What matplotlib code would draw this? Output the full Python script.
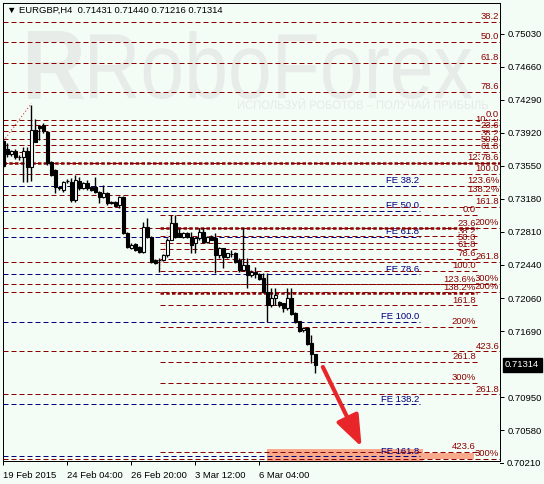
import matplotlib.pyplot as plt
from matplotlib.font_manager import FontProperties
from matplotlib.patches import PathPatch, Rectangle
from matplotlib.textpath import TextPath
from matplotlib.transforms import Affine2D, blended_transform_factory

plt.rcParams["font.family"] = ["Liberation Sans", "DejaVu Sans"]

# EURGBP H4, bar 0 = 19 Feb 2015 12:00
opens = [0.73828, 0.73739, 0.73682, 0.73716, 0.73649, 0.73649, 0.73716, 0.73536, 0.73952, 0.73997,
         0.74008, 0.73930, 0.73593, 0.73503, 0.73312, 0.73278, 0.73379, 0.73368, 0.73165, 0.73379,
         0.73300, 0.73356, 0.73312, 0.73312, 0.73255, 0.73199, 0.73244, 0.73143, 0.73143, 0.73109,
         0.73199, 0.72794, 0.72625, 0.72670, 0.72637, 0.72580, 0.72862, 0.72749, 0.72490, 0.72490,
         0.72490, 0.72547, 0.72715, 0.72907, 0.72794, 0.72749, 0.72794, 0.72749, 0.72682, 0.72738,
         0.72805, 0.72693, 0.72749, 0.72738, 0.72547, 0.72625, 0.72524, 0.72558, 0.72569, 0.72490,
         0.72378, 0.72434, 0.72322, 0.72356, 0.72333, 0.72288, 0.72131, 0.71985, 0.72064, 0.72019,
         0.72008, 0.71951, 0.72064, 0.71895, 0.71805, 0.71704, 0.71726, 0.71558, 0.71431]
highs = [0.73862, 0.73806, 0.73727, 0.73739, 0.73671, 0.73761, 0.73761, 0.74232, 0.74075, 0.74008,
         0.74030, 0.73941, 0.73604, 0.73514, 0.73323, 0.73379, 0.73401, 0.73413, 0.73446, 0.73424,
         0.73368, 0.73390, 0.73323, 0.73424, 0.73267, 0.73334, 0.73255, 0.73154, 0.73154, 0.73210,
         0.73210, 0.72805, 0.72682, 0.72682, 0.72648, 0.72918, 0.72963, 0.72760, 0.72502, 0.72513,
         0.72558, 0.72738, 0.72997, 0.72997, 0.72850, 0.72805, 0.72805, 0.72805, 0.72749, 0.72850,
         0.72850, 0.72760, 0.72772, 0.72794, 0.72637, 0.72630, 0.72569, 0.72603, 0.72580, 0.72513,
         0.72850, 0.72513, 0.72378, 0.72412, 0.72344, 0.72344, 0.72344, 0.72176, 0.72176, 0.72030,
         0.72010, 0.72176, 0.72176, 0.71906, 0.71808, 0.71738, 0.71738, 0.71648, 0.71440]
lows = [0.73525, 0.73649, 0.73660, 0.73626, 0.73615, 0.73368, 0.73368, 0.73379, 0.73817, 0.73840,
        0.73918, 0.73559, 0.73435, 0.73244, 0.73278, 0.73255, 0.73356, 0.73143, 0.73143, 0.73278,
        0.73289, 0.73278, 0.73267, 0.73244, 0.73132, 0.73188, 0.73109, 0.73120, 0.73087, 0.73075,
        0.72783, 0.72625, 0.72614, 0.72592, 0.72569, 0.72569, 0.72738, 0.72457, 0.72446, 0.72356,
        0.72479, 0.72524, 0.72715, 0.72738, 0.72749, 0.72738, 0.72738, 0.72569, 0.72569, 0.72715,
        0.72682, 0.72682, 0.72715, 0.72344, 0.72513, 0.72401, 0.72513, 0.72524, 0.72457, 0.72356,
        0.72370, 0.72176, 0.72299, 0.72288, 0.72266, 0.72120, 0.71794, 0.71963, 0.71985, 0.71963,
        0.71906, 0.71929, 0.71872, 0.71783, 0.71681, 0.71681, 0.71536, 0.71333, 0.71216]
closes = [0.73548, 0.73682, 0.73716, 0.73649, 0.73652, 0.73716, 0.73536, 0.73952, 0.73817, 0.73974,
          0.73941, 0.73581, 0.73446, 0.73312, 0.73300, 0.73368, 0.73382, 0.73165, 0.73390, 0.73300,
          0.73356, 0.73300, 0.73278, 0.73255, 0.73199, 0.73244, 0.73132, 0.73132, 0.73098, 0.73199,
          0.72794, 0.72637, 0.72659, 0.72603, 0.72580, 0.72862, 0.72749, 0.72468, 0.72457, 0.72493,
          0.72547, 0.72715, 0.72907, 0.72749, 0.72750, 0.72794, 0.72749, 0.72659, 0.72738, 0.72805,
          0.72693, 0.72749, 0.72715, 0.72547, 0.72625, 0.72524, 0.72566, 0.72555, 0.72468, 0.72378,
          0.72434, 0.72322, 0.72356, 0.72333, 0.72277, 0.72131, 0.71985, 0.72064, 0.72097, 0.71985,
          0.71951, 0.72064, 0.71884, 0.71794, 0.71693, 0.71726, 0.71547, 0.71431, 0.71314]

time_ticks = [0, 16, 32, 48, 64]
time_labels = ["19 Feb 2015", "24 Feb 04:00", "26 Feb 20:00", "3 Mar 12:00", "6 Mar 04:00"]
price_ticks = [0.75030, 0.74660, 0.74290, 0.73920, 0.73550, 0.73180, 0.72810,
               0.72440, 0.72060, 0.71690, 0.70950, 0.70580, 0.70210]
last_price = 0.71314

# levels that run to the right edge
ray_prices = [0.75170, 0.74940, 0.74704, 0.74378, 0.74013, 0.74069, 0.73940, 0.73850,
              0.73783, 0.73704, 0.73586, 0.73586, 0.73457, 0.73322, 0.73221, 0.73086,
              0.72850, 0.72468, 0.72221, 0.72131, 0.71468, 0.70985, 0.70261]
ray_labels = ["38.2", "50.0", "61.8", "78.6", "100.0", "0.0", "23.6", "38.2",
              "50.0", "61.8", "123.6%", "78.6", "100.0", "123.6%", "138.2%", "161.8",
              "200%", "261.8", "300%", "200%", "423.6", "261.8", "300%"]
ray_thick = [0.73586, 0.73322]

# fibo from the 2 Mar low to the 3 Mar high
fibc_prices = [0.72997, 0.72848, 0.72757, 0.72683, 0.72609, 0.72503, 0.72369,
               0.72216, 0.72124, 0.71981, 0.71738, 0.71348, 0.71112, 0.70339]
fibc_labels = ["0.0", "23.6", "38.2", "50.0", "61.8", "78.6", "100.0",
               "123.6%", "138.2%", "161.8", "200%", "261.8", "300%", "423.6"]
fibc_thick = [0.72848, 0.72124]
fibc_start, fibc_end = 39.2, 118.4

# fibo expansion
fe_prices = [0.73322, 0.73041, 0.72749, 0.72333, 0.71797, 0.70872, 0.70288]
fe_labels = ["FE 38.2", "FE 50.0", "FE 61.8", "FE 78.6", "FE 100.0", "FE 138.2", "FE 161.8"]
fe_end = 104.2

# target zone boxes: x0, x1, y0, y1
zones = [(65.9, 104.9, 0.70200, 0.70368), (104.9, 117.7, 0.70256, 0.70323)]
arrow_from = (79.9, 0.71289)
arrow_to = (89.6, 0.70390)
trend_a = ([0, 7], [0.73828, 0.74250])
trend_c = ([39, 42], [0.72356, 0.72997])

BG = "#F4FCF6"
RED = "#8B0000"
BLUE = "#000080"
W, H = 544, 484

fig = plt.figure(figsize=(W / 100, H / 100), dpi=100, facecolor=BG)
ax = fig.add_axes([3 / W, 23 / H, 497 / W, 458 / H], facecolor=BG)
ax.set_xlim(-0.1, 124.2)
ax.set_ylim(0.70233, 0.75378)


def watermark(s, x0, y0, x1, y1, color, weight="normal"):
    # fit a text outline into a pixel box (top-left origin)
    tp = TextPath((0, 0), s, size=1, prop=FontProperties(family="Liberation Sans", weight=weight))
    bb = tp.get_extents()
    tr = (Affine2D().translate(-bb.x0, -bb.y0)
          .scale((x1 - x0) / bb.width, (y1 - y0) / bb.height)
          .translate(x0, H - y1))
    p = PathPatch(tp, transform=tr, fc=color, ec="none", zorder=0.5)
    ax.add_patch(p)


watermark("R", 28, 31, 84, 99, "#E7ECE9", weight="bold")
watermark("RoboForex", 90, 31, 472, 99, "#E7ECE9")
watermark("ИСПОЛЬЗУЙ РОБОТОВ – ПОЛУЧАЙ ПРИБЫЛЬ", 238, 98, 488, 109, "#E6EBE8")

for x0, x1, y0, y1 in zones:
    ax.add_patch(Rectangle((x0, y0), x1 - x0, y1 - y0, fc="#F9A98B", ec="none", zorder=1))

ax.plot(*trend_a, color="#D04040", lw=0.8, ls=(0, (1, 2)), zorder=2)
ax.plot(*trend_c, color="#F2B48C", lw=0.8, ls=(0, (1, 2)), zorder=2)


def level(price, x0, x1, label, color, thick):
    if thick:
        ax.plot([x0, x1], [price, price], color=color, lw=1.8, ls=(0, (1.4, 0.9)), zorder=3)
    else:
        ax.plot([x0, x1], [price, price], color=color, lw=0.72, ls=(0, (5, 3)), zorder=3)
    box = dict(fc=BG, ec="none", pad=0.2) if price > 0.7040 else None
    ax.annotate(label, (x1 - 0.2, price), xytext=(0, 0.4), textcoords="offset points",
                ha="right", va="bottom", fontsize=6.8, color=color, zorder=2.5, bbox=box)


for p, lab in zip(ray_prices, ray_labels):
    level(p, -0.1, 124.2, lab, RED, p in ray_thick and lab != "123.6%")
for p, lab in zip(fibc_prices, fibc_labels):
    level(p, fibc_start, fibc_end, lab, RED, p in fibc_thick)
for p, lab in zip(fe_prices, fe_labels):
    level(p, -0.1, fe_end, lab, BLUE, False)

for i, (o, h, l, c) in enumerate(zip(opens, highs, lows, closes)):
    ax.plot([i, i], [l, h], color="black", lw=1.0, zorder=5, solid_capstyle="butt")
    ax.add_patch(Rectangle((i - 0.32, min(o, c)), 0.64, max(abs(c - o), 0.00003),
                           fc="black" if c < o else "white", ec="black", lw=0.8, zorder=6))

ax.annotate("", xy=arrow_to, xytext=arrow_from,
            arrowprops=dict(arrowstyle="-|>,head_length=0.95,head_width=0.36", lw=3,
                            color="#E8262A", mutation_scale=20, shrinkA=0, shrinkB=0),
            zorder=7)

for s in ax.spines.values():
    s.set_linewidth(0.72)

ax.set_xticks(time_ticks)
ax.set_xticklabels(time_labels, ha="left")
ax.yaxis.tick_right()
inside = [p for p in price_ticks if p > 0.70233]
ax.set_yticks(inside)
ax.set_yticklabels([f"{p:.5f}" for p in inside])
ax.tick_params(axis="both", length=3, width=0.72, labelsize=6.8, pad=2.5, color="black")
ax.tick_params(axis="x", pad=4)

trans = blended_transform_factory(ax.transAxes, ax.transData)
for p in price_ticks:
    if p <= 0.70233:
        ax.plot([1, 1 + 3 / 497], [p, p], transform=trans, color="black", lw=0.72, clip_on=False)
        ax.text(1 + 7 / 497, p, f"{p:.5f}", transform=trans, ha="left", va="center",
                fontsize=6.8, clip_on=False)
ax.text(1 + 5 / 497, last_price, f"{last_price:.5f}", transform=trans, ha="left", va="center",
        fontsize=6.8, color="white", clip_on=False, zorder=10,
        bbox=dict(fc="black", ec="black", pad=1.6))

fig.text(7 / W, 1 - 10 / H, "▼ EURGBP,H4  0.71431 0.71440 0.71216 0.71314",
         ha="left", va="center", fontsize=6.8)

fig.savefig("out.png", dpi=100, facecolor=BG)
